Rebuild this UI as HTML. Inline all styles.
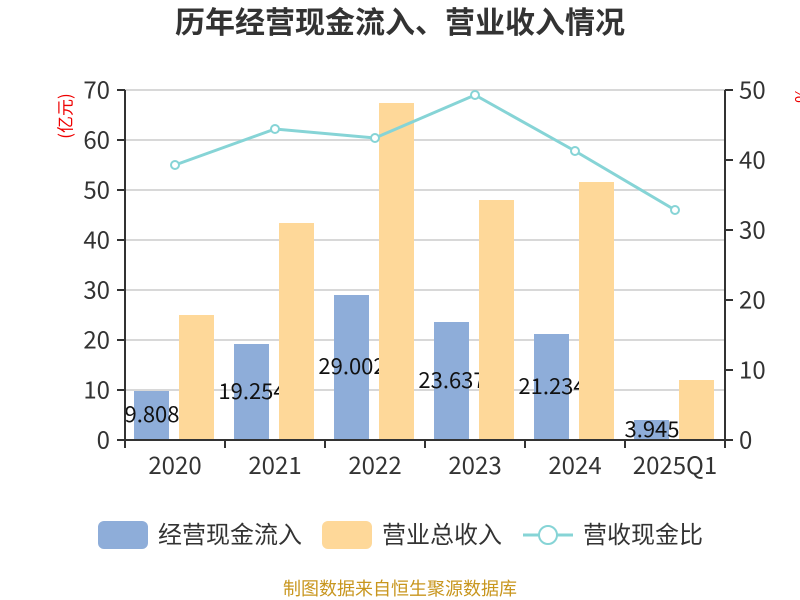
<!DOCTYPE html>
<html><head><meta charset="utf-8"><style>body{margin:0;background:#fff}svg{display:block}</style></head>
<body>
<svg width="800" height="600" xmlns="http://www.w3.org/2000/svg" font-family="'Noto Sans CJK SC','Liberation Sans',sans-serif">
<text x="400" y="33" text-anchor="middle" font-size="30" font-weight="bold" fill="#333">历年经营现金流入、营业收入情况</text>
<g stroke="#ccc" stroke-width="1.5">
<line x1="125" y1="90" x2="725" y2="90"/><line x1="125" y1="140" x2="725" y2="140"/><line x1="125" y1="190" x2="725" y2="190"/><line x1="125" y1="240" x2="725" y2="240"/><line x1="125" y1="290" x2="725" y2="290"/><line x1="125" y1="340" x2="725" y2="340"/><line x1="125" y1="390" x2="725" y2="390"/>
</g>
<g fill="#8eadd9">
<rect x="134" y="391" width="35" height="49"/><rect x="234" y="344" width="35" height="96"/><rect x="334" y="295" width="35" height="145"/><rect x="434" y="322" width="35" height="118"/><rect x="534" y="334" width="35" height="106"/><rect x="634" y="420" width="35" height="20"/>
</g>
<g font-size="22" fill="#111" text-anchor="middle" dominant-baseline="central">
<text x="152" y="413">9.808</text><text x="252" y="390">19.254</text><text x="352" y="365">29.002</text><text x="452" y="379">23.637</text><text x="552" y="385">21.234</text><text x="652" y="428">3.945</text>
</g>
<g fill="#fed899">
<rect x="179" y="315" width="35" height="125"/><rect x="279" y="223" width="35" height="217"/><rect x="379" y="103" width="35" height="337"/><rect x="479" y="200" width="35" height="240"/><rect x="579" y="182" width="35" height="258"/><rect x="679" y="380" width="35" height="60"/>
</g>
<polyline points="175,165 275,129 375,138 475,95 575,151 675,210" fill="none" stroke="#86d4d6" stroke-width="3"/>
<g fill="#fff" stroke="#86d4d6" stroke-width="2">
<circle cx="175" cy="165" r="4"/><circle cx="275" cy="129" r="4"/><circle cx="375" cy="138" r="4"/><circle cx="475" cy="95" r="4"/><circle cx="575" cy="151" r="4"/><circle cx="675" cy="210" r="4"/>
</g>
<g stroke="#333" stroke-width="2">
<line x1="125" y1="90" x2="125" y2="440"/><line x1="725" y1="90" x2="725" y2="440"/><line x1="125" y1="440" x2="725" y2="440"/>
<line x1="117" y1="90" x2="125" y2="90"/><line x1="117" y1="140" x2="125" y2="140"/><line x1="117" y1="190" x2="125" y2="190"/><line x1="117" y1="240" x2="125" y2="240"/><line x1="117" y1="290" x2="125" y2="290"/><line x1="117" y1="340" x2="125" y2="340"/><line x1="117" y1="390" x2="125" y2="390"/><line x1="117" y1="440" x2="125" y2="440"/>
<line x1="725" y1="90" x2="733" y2="90"/><line x1="725" y1="160" x2="733" y2="160"/><line x1="725" y1="230" x2="733" y2="230"/><line x1="725" y1="300" x2="733" y2="300"/><line x1="725" y1="370" x2="733" y2="370"/><line x1="725" y1="440" x2="733" y2="440"/>
<line x1="125" y1="440" x2="125" y2="448"/><line x1="225" y1="440" x2="225" y2="448"/><line x1="325" y1="440" x2="325" y2="448"/><line x1="425" y1="440" x2="425" y2="448"/><line x1="525" y1="440" x2="525" y2="448"/><line x1="625" y1="440" x2="625" y2="448"/><line x1="725" y1="440" x2="725" y2="448"/>
</g>
<g font-size="24" fill="#333" text-anchor="end" dominant-baseline="central">
<text x="110" y="88">70</text><text x="110" y="138">60</text><text x="110" y="188">50</text><text x="110" y="238">40</text><text x="110" y="288">30</text><text x="110" y="338">20</text><text x="110" y="388">10</text><text x="110" y="438">0</text>
</g>
<g font-size="24" fill="#333" dominant-baseline="central">
<text x="739" y="88">50</text><text x="739" y="158">40</text><text x="739" y="228">30</text><text x="739" y="298">20</text><text x="739" y="368">10</text><text x="739" y="438">0</text>
</g>
<g font-size="24" fill="#333" text-anchor="middle">
<text x="175" y="474">2020</text><text x="275" y="474">2021</text><text x="375" y="474">2022</text><text x="475" y="474">2023</text><text x="575" y="474">2024</text><text x="675" y="474">2025Q1</text>
</g>
<text transform="translate(64,116) rotate(-90)" font-size="17" fill="#e00" text-anchor="middle" dominant-baseline="central">(亿元)</text>
<text transform="translate(800,95) rotate(-90)" font-size="17" fill="#e00" text-anchor="middle" dominant-baseline="central">%</text>
<rect x="98" y="521" width="50" height="28" rx="6" fill="#8eadd9"/>
<text x="158" y="543" font-size="24" fill="#333">经营现金流入</text>
<rect x="322" y="521" width="50" height="28" rx="6" fill="#fed899"/>
<text x="382" y="543" font-size="24" fill="#333">营业总收入</text>
<line x1="523" y1="535" x2="573" y2="535" stroke="#86d4d6" stroke-width="3"/>
<circle cx="548" cy="535" r="9" fill="#fff" stroke="#86d4d6" stroke-width="2"/>
<text x="583" y="543" font-size="24" fill="#333">营收现金比</text>
<text x="400" y="595" font-size="18" fill="#c8961e" text-anchor="middle">制图数据来自恒生聚源数据库</text>
</svg>
</body></html>
